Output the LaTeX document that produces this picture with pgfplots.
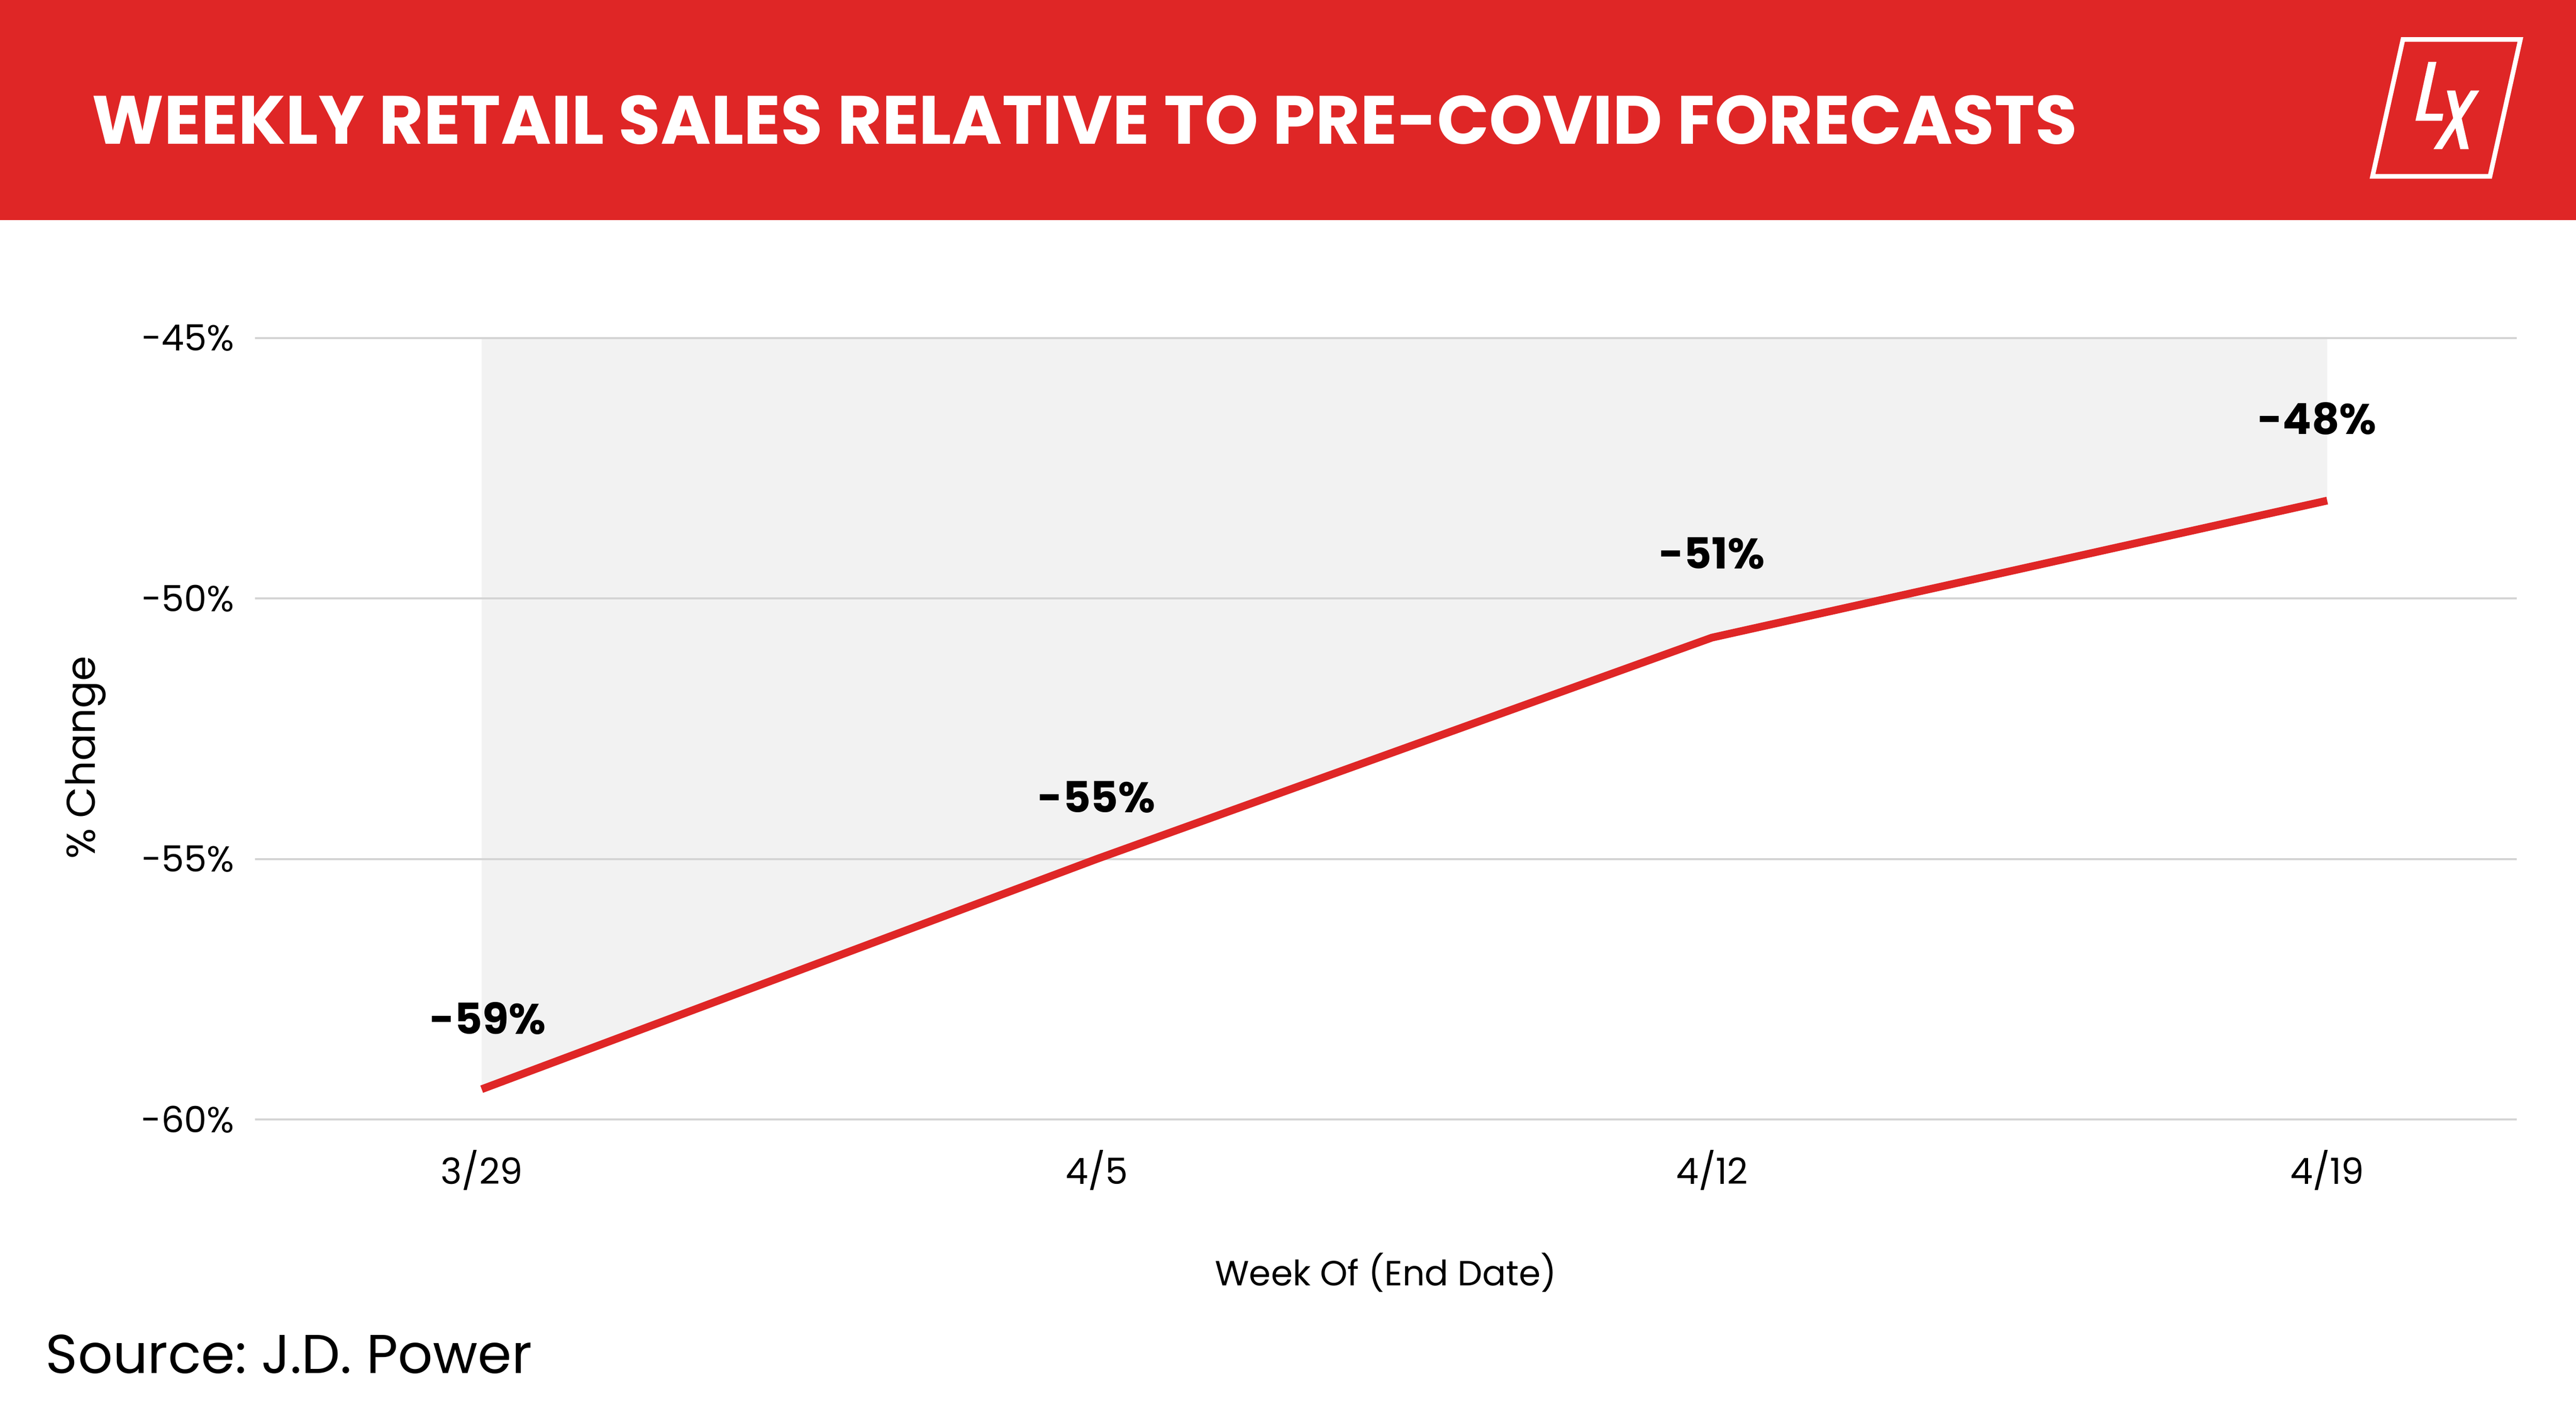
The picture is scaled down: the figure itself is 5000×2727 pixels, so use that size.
\documentclass[border=0pt]{standalone}
\usepackage{pgfplots}
\pgfplotsset{compat=1.18}
\usepackage{fontspec}
\setmainfont{Poppins}
\frenchspacing
\definecolor{lxred}{HTML}{DF2626}
\definecolor{gridgray}{HTML}{D4D4D4}
\definecolor{fillgray}{HTML}{F2F2F2}
\begin{document}
\begin{tikzpicture}
\begin{scope}[x=0.1pt,y=-0.1pt]
  \path (0,0) rectangle (5000,2727);
  \fill[lxred] (0,0) rectangle (5000,427);
  % logo
  \draw[white, line width=0.9pt, line join=miter] (4664,76.5) -- (4892,76.5) -- (4833,342) -- (4605,342) -- cycle;
  \fill[white] (4713.3,120) -- (4729,120) -- (4707.3,220.7) -- (4742.3,220.7) -- (4740,234.3) -- (4688.3,234.3) -- cycle;
  \fill[white] (4749.3,175.7) -- (4765.7,175.7) -- (4791.7,289.3) -- (4775.3,289.3) -- cycle;
  \fill[white] (4795.7,175.7) -- (4812.3,175.7) -- (4740,289.3) -- (4723.3,289.3) -- cycle;
  % title
  \node[anchor=base west, inner sep=0pt, text=white, font=\bfseries\fontsize{13.28}{15}\selectfont] at (177,279) {WEEKLY RETAIL SALES RELATIVE TO PRE-COVID FORECASTS};
  % source
  \node[anchor=base west, inner sep=0pt, font=\fontsize{10.6}{12}\selectfont] at (87,2664) {Source: J.D. Power};
  % axis labels
  \node[anchor=base, inner sep=0pt, font=\fontsize{6.8}{8}\selectfont] at (2690,2494) {Week Of (End Date)};
  \node[anchor=base, inner sep=0pt, rotate=90, font=\fontsize{7.8}{9}\selectfont] at (184,1470) {\% Change};
\end{scope}
\begin{axis}[
  set layers,
  at={(49.5pt,-217.2pt)}, anchor=south west,
  scale only axis, width=439pt, height=151.6pt,
  xmin=-0.3685, xmax=3.308, ymin=-60, ymax=-45,
  axis line style={draw=none},
  major tick length=0pt,
  ymajorgrids, grid style={color=gridgray, line width=0.4pt},
  xtick={0,1,2,3}, xticklabels={3/29,4/5,4/12,4/19},
  ytick={-60,-55,-50,-45}, yticklabels={-60\%,-55\%,-50\%,-45\%},
  tick label style={font=\fontsize{7}{8}\selectfont, inner sep=0pt},
  xticklabel style={anchor=base, yshift=-12.6pt},
  yticklabel style={anchor=east, xshift=-3.8pt},
  clip=false,
]
\addplot[fill=fillgray, draw=none, on layer=axis background] coordinates {(0,-45) (0,-59.42) (1,-55.0) (2,-50.75) (3,-48.12) (3,-45)} -- cycle;
\addplot[color=lxred, line width=1.5pt] coordinates {(0,-59.42) (1,-55.0) (2,-50.75) (3,-48.12)};
\node[font=\bfseries\fontsize{8.3}{9}\selectfont] at (axis cs:0.01,-58.06) {-59\%};
\node[font=\bfseries\fontsize{8.3}{9}\selectfont] at (axis cs:1.0,-53.81) {-55\%};
\node[font=\bfseries\fontsize{8.3}{9}\selectfont] at (axis cs:2.0,-49.13) {-51\%};
\node[font=\bfseries\fontsize{8.3}{9}\selectfont] at (axis cs:2.984,-46.55) {-48\%};
\end{axis}
\end{tikzpicture}
\end{document}
